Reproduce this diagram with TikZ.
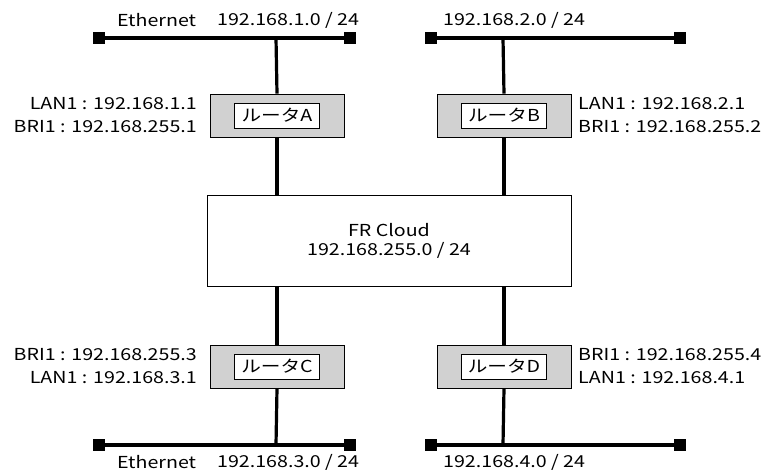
\documentclass[tikz,border=0pt]{standalone}
\usepackage{fontspec}
\setmainfont{Noto Sans CJK JP}[FakeStretch=1.19]

\tikzset{
  lan/.style={line width=3.2pt},
  term/.style={fill=black, inner sep=0pt, minimum size=12pt},
  router/.style={draw, fill=black!18, line width=0.8pt, minimum width=134pt, minimum height=43pt},
  rname/.style={draw, fill=white, line width=0.8pt, minimum width=85pt, minimum height=25pt, inner sep=0pt},
  cloud/.style={draw, line width=1pt, minimum width=364pt, minimum height=91pt, align=center,
    font=\fontsize{16.5}{19}\selectfont},
  txt/.style={inner sep=0pt, font=\fontsize{16.5}{19}\selectfont}
}

\begin{document}
\begin{tikzpicture}[x=1pt, y=-1pt]
  \useasboundingbox (0,0) rectangle (769,472);
  % ethernet segments
  \node[term] (ta1) at (99,38) {};
  \node[term] (ta2) at (350,38) {};
  \node[term] (tb1) at (431,38) {};
  \node[term] (tb2) at (680,38) {};
  \node[term] (tc1) at (99,445) {};
  \node[term] (tc2) at (350,445) {};
  \node[term] (td1) at (431,445) {};
  \node[term] (td2) at (680,445) {};
  \draw[lan] (ta1.center) -- (ta2.center);
  \draw[lan] (tb1.center) -- (tb2.center);
  \draw[lan] (tc1.center) -- (tc2.center);
  \draw[lan] (td1.center) -- (td2.center);
  \coordinate (ja) at (276,38);
  \coordinate (jb) at (503,38);
  \coordinate (jc) at (276,445);
  \coordinate (jd) at (503,445);

  % routers and cloud
  \node[cloud] (fr) at (389,240.5) {FR Cloud\\192.168.255.0 / 24};
  \node[router] (ra) at (277,115.5) {};
  \node[router] (rb) at (504,115.5) {};
  \node[router] (rc) at (277,366.5) {};
  \node[router] (rd) at (504,366.5) {};
  \node[rname, txt] at (ra) {ルータA};
  \node[rname, txt] at (rb) {ルータB};
  \node[rname, txt] at (rc) {ルータC};
  \node[rname, txt] at (rd) {ルータD};

  \draw[lan] (ja) -- (ra.north);
  \draw[lan] (jb) -- (rb.north);
  \draw[lan] (ra.south) -- (ra.south |- fr.north);
  \draw[lan] (rb.south) -- (rb.south |- fr.north);
  \draw[lan] (rc.north) -- (rc.north |- fr.south);
  \draw[lan] (rd.north) -- (rd.north |- fr.south);
  \draw[lan] (rc.south) -- (jc);
  \draw[lan] (rd.south) -- (jd);

  % network labels
  \node[txt, anchor=west] (ea) at (117,20) {Ethernet};
  \node[txt, anchor=west] (na) at (217,20) {192.168.1.0 / 24};
  \node[txt, anchor=west] (nb) at (443,20) {192.168.2.0 / 24};
  \node[txt, anchor=west] (ec) at (117,462) {Ethernet};
  \node[txt, anchor=west] (nc) at (217,462) {192.168.3.0 / 24};
  \node[txt, anchor=west] (nd) at (443,462) {192.168.4.0 / 24};

  % interface labels
  \node[txt, anchor=east] (la) at (197,104) {LAN1 : 192.168.1.1};
  \node[txt, anchor=east] (ba) at (197,127) {BRI1 : 192.168.255.1};
  \node[txt, anchor=west] (lb) at (578,104) {LAN1 : 192.168.2.1};
  \node[txt, anchor=west] (bb) at (578,127) {BRI1 : 192.168.255.2};
  \node[txt, anchor=east] (bc) at (197,355) {BRI1 : 192.168.255.3};
  \node[txt, anchor=east] (lc) at (197,378) {LAN1 : 192.168.3.1};
  \node[txt, anchor=west] (bd) at (578,355) {BRI1 : 192.168.255.4};
  \node[txt, anchor=west] (ld) at (578,378) {LAN1 : 192.168.4.1};
\end{tikzpicture}
\end{document}
